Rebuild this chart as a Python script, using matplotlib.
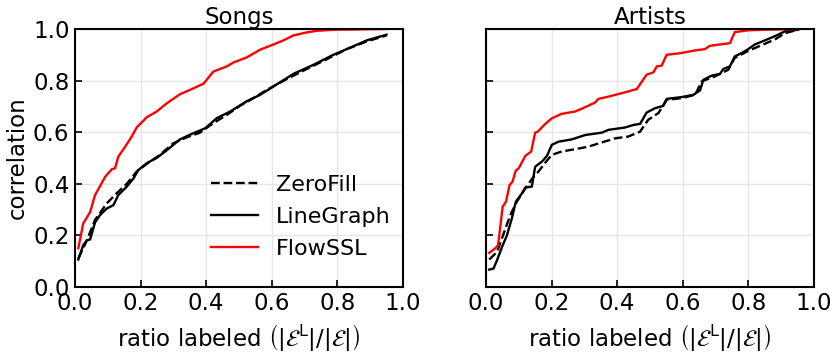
import matplotlib
matplotlib.use("Agg")
import matplotlib.pyplot as plt
import numpy as np

# Songs
songs_flow_x = [0.01, 0.025, 0.046, 0.061, 0.076, 0.092, 0.112, 0.122, 0.132, 0.153, 0.173, 0.188,
                0.219, 0.249, 0.28, 0.32, 0.356, 0.392, 0.422, 0.463, 0.483, 0.524, 0.565, 0.605,
                0.636, 0.666, 0.707, 0.738, 0.788, 0.95]
songs_flow_y = [0.15, 0.246, 0.29, 0.356, 0.39, 0.427, 0.456, 0.46, 0.505, 0.544, 0.583, 0.618,
                0.658, 0.68, 0.712, 0.747, 0.767, 0.788, 0.835, 0.855, 0.87, 0.89, 0.92, 0.94,
                0.956, 0.975, 0.987, 0.993, 0.997, 1.0]
songs_line_x = [0.01, 0.025, 0.036, 0.046, 0.061, 0.076, 0.097, 0.117, 0.132, 0.158, 0.178, 0.193,
                0.219, 0.249, 0.28, 0.32, 0.361, 0.397, 0.432, 0.473, 0.524, 0.565, 0.605, 0.666,
                0.727, 0.788, 0.849, 0.89, 0.95]
songs_line_y = [0.106, 0.162, 0.18, 0.184, 0.25, 0.278, 0.304, 0.317, 0.356, 0.389, 0.42, 0.453,
                0.48, 0.5, 0.53, 0.572, 0.596, 0.615, 0.654, 0.68, 0.72, 0.745, 0.777, 0.826,
                0.861, 0.9, 0.933, 0.956, 0.978]
songs_zero_x = [0.01, 0.036, 0.061, 0.097, 0.127, 0.158, 0.188, 0.219, 0.259, 0.3, 0.341, 0.381,
                0.422, 0.463, 0.503, 0.544, 0.585, 0.646, 0.707, 0.768, 0.829, 0.89, 0.95]
songs_zero_y = [0.11, 0.18, 0.26, 0.324, 0.363, 0.4, 0.447, 0.477, 0.512, 0.557, 0.58, 0.598,
                0.635, 0.667, 0.702, 0.732, 0.764, 0.806, 0.845, 0.883, 0.922, 0.952, 0.975]

# Artists
art_flow_x = [0.01, 0.028, 0.037, 0.051, 0.061, 0.072, 0.081, 0.091, 0.1, 0.12, 0.138, 0.15,
              0.158, 0.181, 0.201, 0.231, 0.272, 0.303, 0.333, 0.343, 0.374, 0.414, 0.46, 0.49,
              0.511, 0.521, 0.536, 0.551, 0.597, 0.638, 0.668, 0.683, 0.744, 0.759, 0.8, 0.846, 0.952]
art_flow_y = [0.132, 0.149, 0.162, 0.311, 0.33, 0.395, 0.408, 0.451, 0.46, 0.508, 0.525, 0.598,
              0.602, 0.632, 0.654, 0.671, 0.68, 0.697, 0.715, 0.729, 0.738, 0.751, 0.767, 0.823,
              0.832, 0.855, 0.858, 0.9, 0.907, 0.917, 0.922, 0.935, 0.945, 0.988, 0.995, 0.997, 1.0]
art_line_x = [0.01, 0.023, 0.034, 0.049, 0.064, 0.079, 0.091, 0.11, 0.12, 0.14, 0.15, 0.171,
              0.186, 0.201, 0.221, 0.262, 0.303, 0.353, 0.374, 0.424, 0.45, 0.47, 0.49, 0.516,
              0.541, 0.551, 0.597, 0.633, 0.653, 0.663, 0.688, 0.714, 0.724, 0.744, 0.759, 0.78,
              0.8, 0.82, 0.851, 0.881, 0.912, 0.952]
art_line_y = [0.067, 0.071, 0.104, 0.155, 0.2, 0.266, 0.33, 0.363, 0.385, 0.389, 0.466, 0.486,
              0.508, 0.551, 0.563, 0.572, 0.589, 0.598, 0.609, 0.618, 0.628, 0.632, 0.676, 0.693,
              0.702, 0.729, 0.736, 0.745, 0.762, 0.803, 0.819, 0.826, 0.845, 0.855, 0.894, 0.907,
              0.922, 0.94, 0.956, 0.972, 0.991, 0.997]
art_zero_x = [0.01, 0.034, 0.054, 0.074, 0.094, 0.12, 0.145, 0.16, 0.181, 0.201, 0.231, 0.272,
              0.313, 0.353, 0.394, 0.434, 0.47, 0.495, 0.526, 0.551, 0.597, 0.638, 0.658, 0.698,
              0.739, 0.759, 0.8, 0.84, 0.881, 0.912, 0.952]
art_zero_y = [0.106, 0.136, 0.207, 0.278, 0.33, 0.382, 0.427, 0.447, 0.482, 0.512, 0.525, 0.534,
              0.544, 0.56, 0.576, 0.583, 0.602, 0.648, 0.674, 0.725, 0.732, 0.745, 0.797, 0.816,
              0.842, 0.888, 0.915, 0.937, 0.959, 0.984, 0.997]

plt.rcParams['font.family'] = ['DejaVu Sans']
plt.rcParams['mathtext.fontset'] = 'dejavusans'

fig = plt.figure(figsize=(8.3, 3.52), dpi=100)
ax1 = fig.add_axes([0.0904, 0.185, 0.395, 0.7326])
ax2 = fig.add_axes([0.5855, 0.185, 0.395, 0.7326])

xlabel = r'ratio labeled $\left(|\mathcal{E}^{\mathrm{L}}|/|\mathcal{E}|\right)$'
fs = 16.5

panels = [
    (ax1, "Songs", songs_zero_x, songs_zero_y, songs_line_x, songs_line_y, songs_flow_x, songs_flow_y),
    (ax2, "Artists", art_zero_x, art_zero_y, art_line_x, art_line_y, art_flow_x, art_flow_y),
]
for ax, title, zx, zy, lx, ly, fx, fy in panels:
    ax.plot(zx, zy, color='black', ls='--', lw=1.7, label='ZeroFill')
    ax.plot(lx, ly, color='black', lw=1.7, label='LineGraph')
    ax.plot(fx, fy, color='red', lw=1.7, label='FlowSSL')
    ax.set_xlim(0, 1)
    ax.set_ylim(0, 1)
    ax.set_xticks(np.arange(0, 1.01, 0.2))
    ax.set_yticks(np.arange(0, 1.01, 0.2))
    ax.grid(True, color='#e6e6e6', lw=1)
    ax.set_axisbelow(True)
    ax.tick_params(direction='in', labelsize=fs, length=5, width=1.2, pad=4)
    for s in ax.spines.values():
        s.set_linewidth(1.5)
    ax.set_title(title, fontsize=fs, pad=-1)
    ax.set_xlabel(xlabel, fontsize=fs, labelpad=5)

ax1.set_ylabel('correlation', fontsize=fs, labelpad=3)
ax2.set_yticklabels([])
ax1.legend(loc='lower right', bbox_to_anchor=(1.0, 0.06), frameon=False, fontsize=16,
           handlelength=2.1, borderaxespad=0.15, labelspacing=0.55, handletextpad=0.8)

fig.savefig('out.png', dpi=100)
